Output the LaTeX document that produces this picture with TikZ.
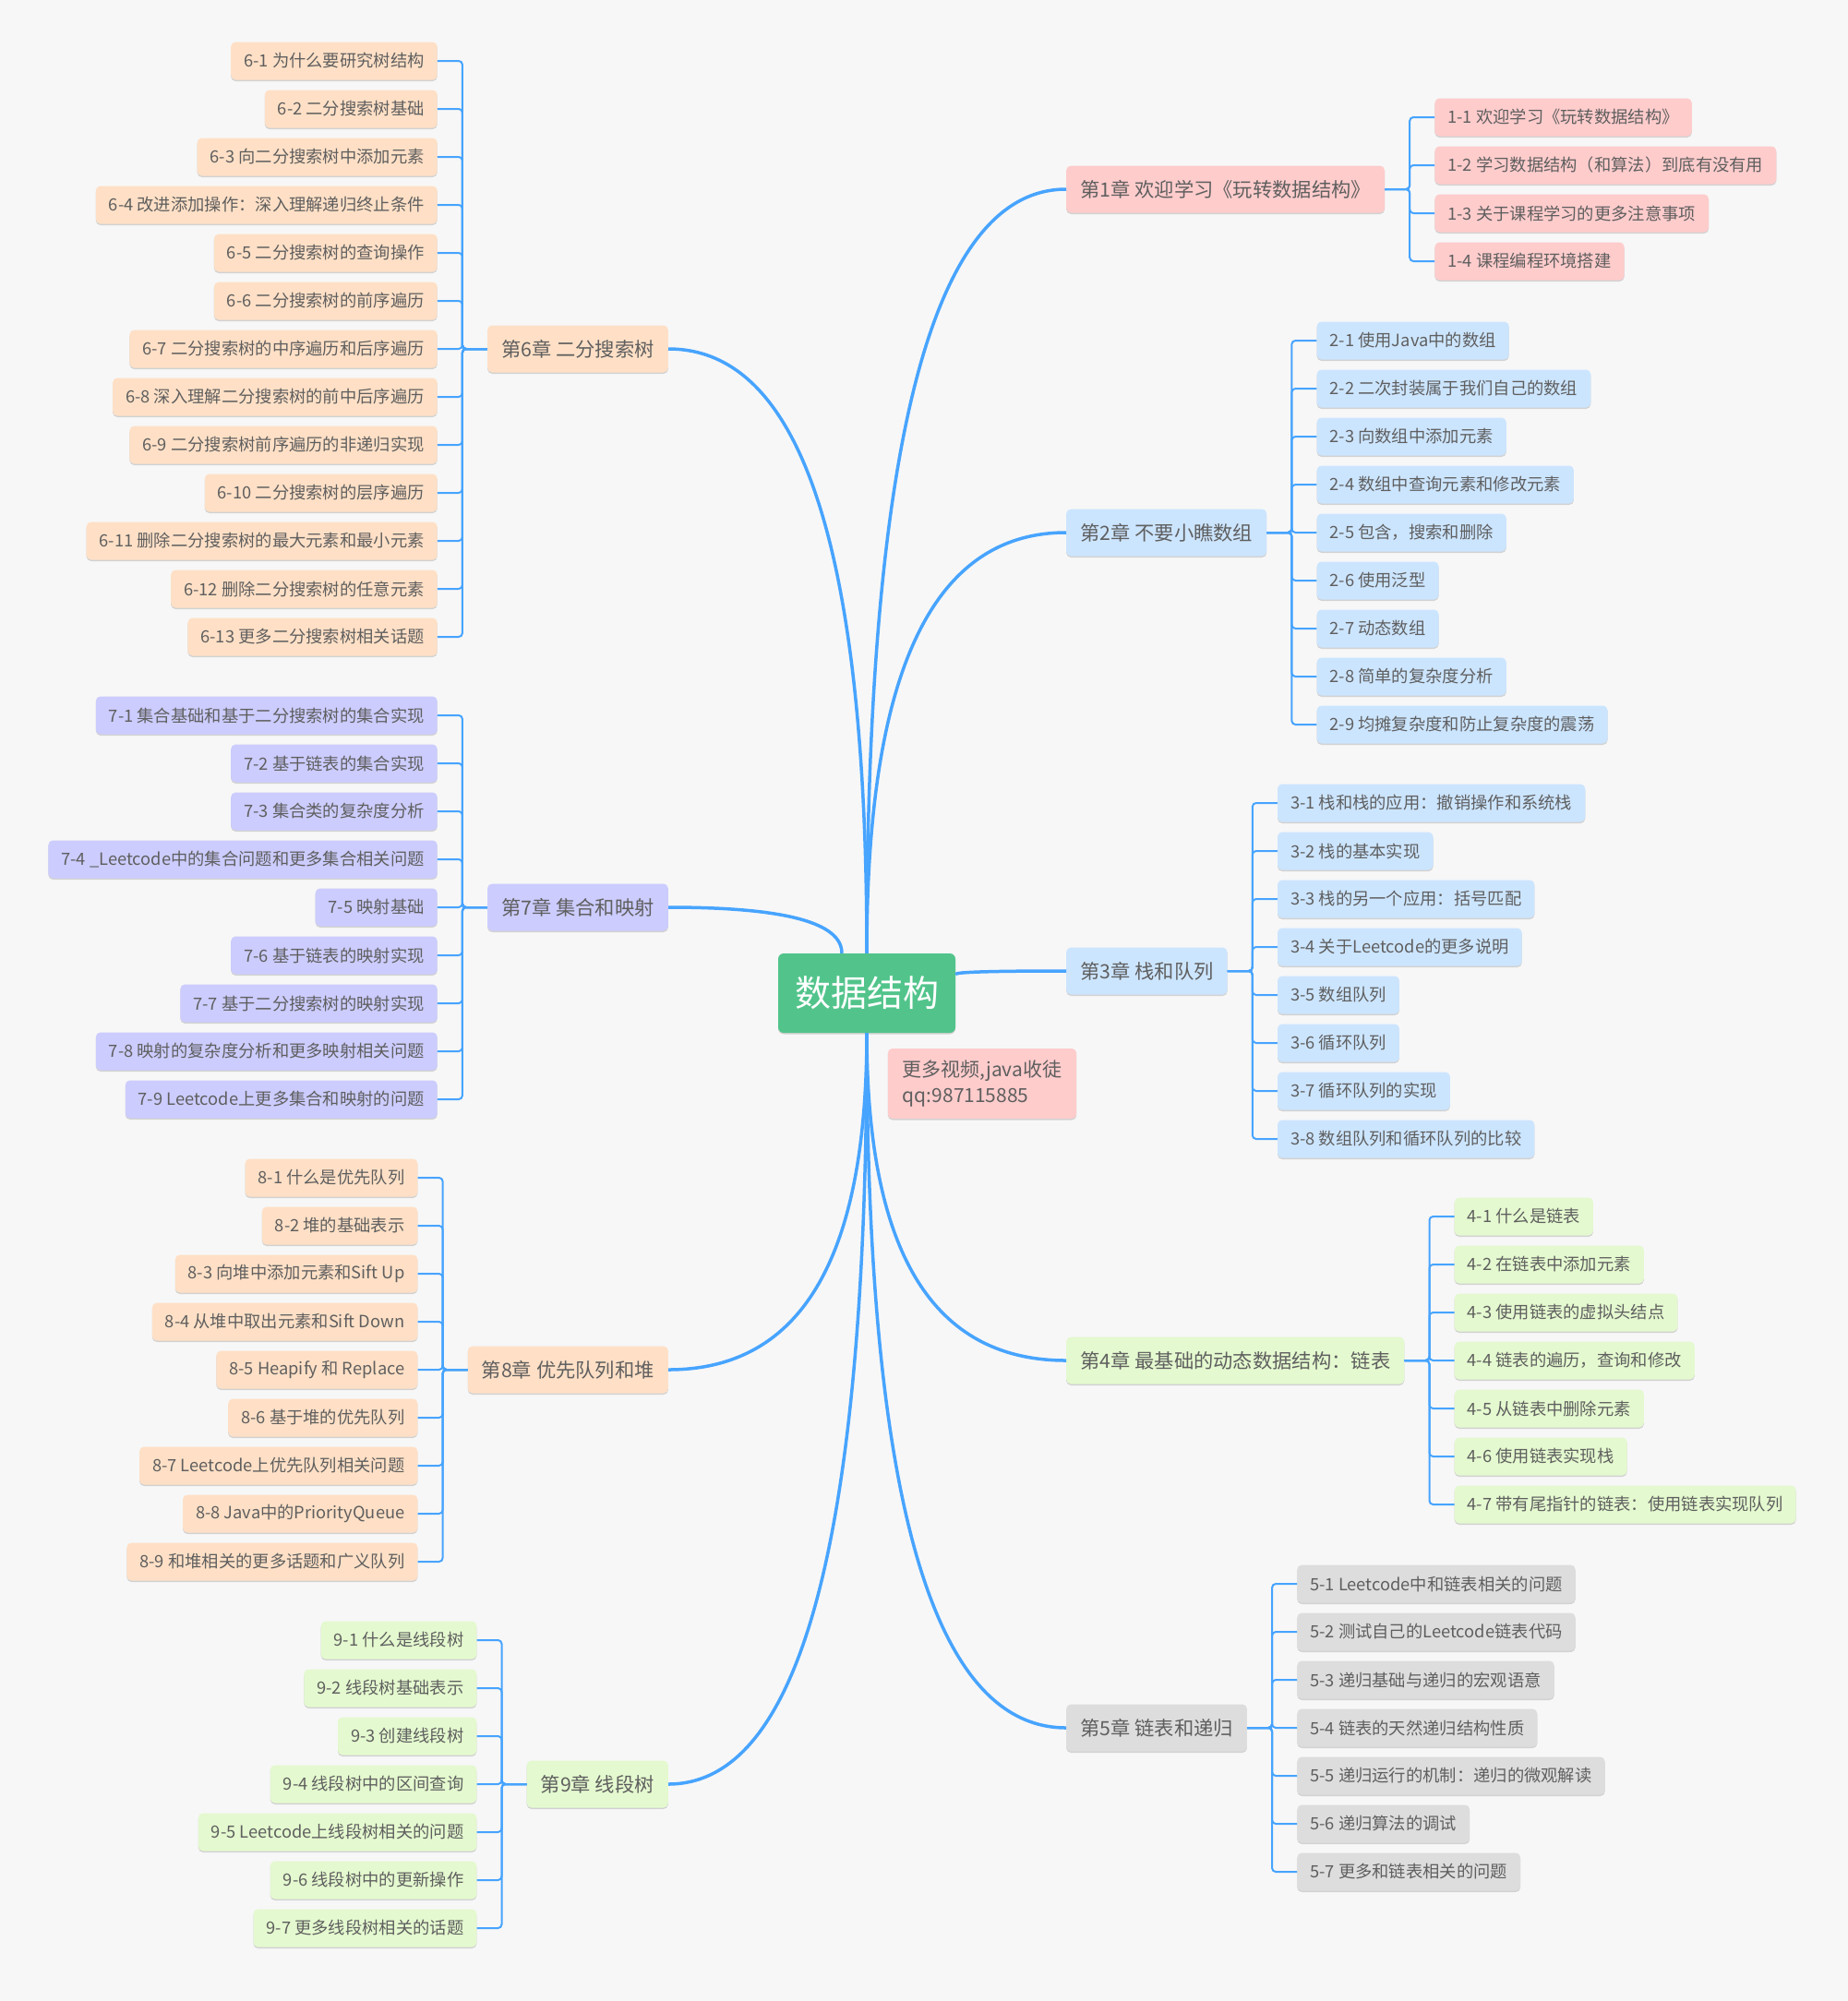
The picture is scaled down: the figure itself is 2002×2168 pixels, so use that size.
\documentclass[tikz,border=0pt]{standalone}
\usepackage{fontspec}
\setmainfont{Noto Sans CJK SC}
\usetikzlibrary{calc, shadows}

\definecolor{paper}{HTML}{F7F7F7}
\definecolor{wire}{HTML}{47A4FF}
\definecolor{ink}{HTML}{5F5F5F}
\definecolor{rootgreen}{HTML}{52C48B}
\definecolor{pinkbox}{HTML}{FFCCCC}
\definecolor{bluebox}{HTML}{CCE5FF}
\definecolor{limebox}{HTML}{E4F9CF}
\definecolor{greybox}{HTML}{DDDDDD}
\definecolor{peachbox}{HTML}{FFE0C6}
\definecolor{lilacbox}{HTML}{CCCCFF}

\tikzset{
  cardbox/.style={rectangle, rounded corners=5pt, inner ysep=0pt, text=ink,
    drop shadow={shadow xshift=0pt, shadow yshift=-1.5pt, opacity=.15, fill=black}},
  leaf/.style={cardbox, minimum height=41pt, inner xsep=14pt, font=\fontsize{18.3}{22}\selectfont},
  chap/.style={cardbox, minimum height=51pt, inner xsep=15pt, font=\fontsize{21.3}{25}\selectfont},
  twig/.style={draw=wire, line width=2pt, rounded corners=4pt,
    to path={-- ($(\tikztostart)!.5!(\tikztostart -| \tikztotarget)$) |- (\tikztotarget)}},
  branch/.style={draw=wire, line width=3.5pt,
    to path={.. controls ($(\tikztostart)!.67!(\tikztostart |- \tikztotarget)$) and ($(\tikztotarget)!.67!(\tikztostart |- \tikztotarget)$) .. (\tikztotarget)}}
}

\begin{document}
\begin{tikzpicture}[x=1pt, y=-1pt]
  \fill[paper] (0,0) rectangle (2002,2168);

  % centre and the loose note
  \node[rectangle, rounded corners=6pt, fill=rootgreen, text=white, minimum width=192pt, minimum height=86pt,
    font=\fontsize{39}{44}\selectfont, drop shadow={shadow xshift=0pt, shadow yshift=-1.5pt, opacity=.15, fill=black}] (root) at (939,1076) {数据结构};
  \node[cardbox, fill=pinkbox, align=left, inner xsep=16pt, minimum height=76pt, font=\fontsize{21}{28}\selectfont] (memo) at (1064,1174) {更多视频,java收徒\\qq:987115885};

  % chapters
  \node[chap, fill=pinkbox, anchor=west] (c1) at (1155,205) {第1章 欢迎学习《玩转数据结构》};
  \node[chap, fill=bluebox, anchor=west] (c2) at (1155,577) {第2章 不要小瞧数组};
  \node[chap, fill=bluebox, anchor=west] (c3) at (1155,1052) {第3章 栈和队列};
  \node[chap, fill=limebox, anchor=west] (c4) at (1155,1474) {第4章 最基础的动态数据结构：链表};
  \node[chap, fill=greybox, anchor=west] (c5) at (1155,1872) {第5章 链表和递归};
  \node[chap, fill=peachbox, anchor=east] (c6) at (724,378) {第6章 二分搜索树};
  \node[chap, fill=lilacbox, anchor=east] (c7) at (724,983) {第7章 集合和映射};
  \node[chap, fill=peachbox, anchor=east] (c8) at (724,1484) {第8章 优先队列和堆};
  \node[chap, fill=limebox, anchor=east] (c9) at (724,1933) {第9章 线段树};

  \draw[branch] (root.north) to (c1.west);
  \draw[branch] (root.north) to (c2.west);
  \draw[branch] (root.12) to (c3.west);
  \draw[branch] (root.south) to (c4.west);
  \draw[branch] (root.south) to (c5.west);
  \draw[branch] (root.north) to (c6.east);
  \draw[branch] (root.122) to (c7.east);
  \draw[branch] (root.south) to (c8.east);
  \draw[branch] (root.south) to (c9.east);

  % sections, right side
  \foreach \t [count=\i] in {1-1 欢迎学习《玩转数据结构》,
    1-2 学习数据结构（和算法）到底有没有用,
    1-3 关于课程学习的更多注意事项,
    1-4 课程编程环境搭建}{
    \node[leaf, fill=pinkbox, anchor=west] (k1-\i) at ($(c1.east)+(54,{52*(\i-2.5)})$) {\t};
    \draw[twig] (c1.east) to (k1-\i.west);
  }
  \foreach \t [count=\i] in {2-1 使用Java中的数组,
    2-2 二次封装属于我们自己的数组,
    2-3 向数组中添加元素,
    2-4 数组中查询元素和修改元素,
    2-5 包含，搜索和删除,
    2-6 使用泛型,
    2-7 动态数组,
    2-8 简单的复杂度分析,
    2-9 均摊复杂度和防止复杂度的震荡}{
    \node[leaf, fill=bluebox, anchor=west] (k2-\i) at ($(c2.east)+(54,{52*(\i-5)})$) {\t};
    \draw[twig] (c2.east) to (k2-\i.west);
  }
  \foreach \t [count=\i] in {3-1 栈和栈的应用：撤销操作和系统栈,
    3-2 栈的基本实现,
    3-3 栈的另一个应用：括号匹配,
    3-4 关于Leetcode的更多说明,
    3-5 数组队列,
    3-6 循环队列,
    3-7 循环队列的实现,
    3-8 数组队列和循环队列的比较}{
    \node[leaf, fill=bluebox, anchor=west] (k3-\i) at ($(c3.east)+(54,{52*(\i-4.5)})$) {\t};
    \draw[twig] (c3.east) to (k3-\i.west);
  }
  \foreach \t [count=\i] in {4-1 什么是链表,
    4-2 在链表中添加元素,
    4-3 使用链表的虚拟头结点,
    4-4 链表的遍历，查询和修改,
    4-5 从链表中删除元素,
    4-6 使用链表实现栈,
    4-7 带有尾指针的链表：使用链表实现队列}{
    \node[leaf, fill=limebox, anchor=west] (k4-\i) at ($(c4.east)+(54,{52*(\i-4)})$) {\t};
    \draw[twig] (c4.east) to (k4-\i.west);
  }
  \foreach \t [count=\i] in {5-1 Leetcode中和链表相关的问题,
    5-2 测试自己的Leetcode链表代码,
    5-3 递归基础与递归的宏观语意,
    5-4 链表的天然递归结构性质,
    5-5 递归运行的机制：递归的微观解读,
    5-6 递归算法的调试,
    5-7 更多和链表相关的问题}{
    \node[leaf, fill=greybox, anchor=west] (k5-\i) at ($(c5.east)+(54,{52*(\i-4)})$) {\t};
    \draw[twig] (c5.east) to (k5-\i.west);
  }

  % sections, left side
  \foreach \t [count=\i] in {6-1 为什么要研究树结构,
    6-2 二分搜索树基础,
    6-3 向二分搜索树中添加元素,
    6-4 改进添加操作：深入理解递归终止条件,
    6-5 二分搜索树的查询操作,
    6-6 二分搜索树的前序遍历,
    6-7 二分搜索树的中序遍历和后序遍历,
    6-8 深入理解二分搜索树的前中后序遍历,
    6-9 二分搜索树前序遍历的非递归实现,
    6-10 二分搜索树的层序遍历,
    6-11 删除二分搜索树的最大元素和最小元素,
    6-12 删除二分搜索树的任意元素,
    6-13 更多二分搜索树相关话题}{
    \node[leaf, fill=peachbox, anchor=east] (k6-\i) at ($(c6.west)+(-54,{52*(\i-7)})$) {\t};
    \draw[twig] (c6.west) to (k6-\i.east);
  }
  \foreach \t [count=\i] in {7-1 集合基础和基于二分搜索树的集合实现,
    7-2 基于链表的集合实现,
    7-3 集合类的复杂度分析,
    7-4 \_Leetcode中的集合问题和更多集合相关问题,
    7-5 映射基础,
    7-6 基于链表的映射实现,
    7-7 基于二分搜索树的映射实现,
    7-8 映射的复杂度分析和更多映射相关问题,
    7-9 Leetcode上更多集合和映射的问题}{
    \node[leaf, fill=lilacbox, anchor=east] (k7-\i) at ($(c7.west)+(-54,{52*(\i-5)})$) {\t};
    \draw[twig] (c7.west) to (k7-\i.east);
  }
  \foreach \t [count=\i] in {8-1 什么是优先队列,
    8-2 堆的基础表示,
    8-3 向堆中添加元素和Sift Up,
    8-4 从堆中取出元素和Sift Down,
    8-5 Heapify 和 Replace,
    8-6 基于堆的优先队列,
    8-7 Leetcode上优先队列相关问题,
    8-8 Java中的PriorityQueue,
    8-9 和堆相关的更多话题和广义队列}{
    \node[leaf, fill=peachbox, anchor=east] (k8-\i) at ($(c8.west)+(-54,{52*(\i-5)})$) {\t};
    \draw[twig] (c8.west) to (k8-\i.east);
  }
  \foreach \t [count=\i] in {9-1 什么是线段树,
    9-2 线段树基础表示,
    9-3 创建线段树,
    9-4 线段树中的区间查询,
    9-5 Leetcode上线段树相关的问题,
    9-6 线段树中的更新操作,
    9-7 更多线段树相关的话题}{
    \node[leaf, fill=limebox, anchor=east] (k9-\i) at ($(c9.west)+(-54,{52*(\i-4)})$) {\t};
    \draw[twig] (c9.west) to (k9-\i.east);
  }
\end{tikzpicture}
\end{document}
